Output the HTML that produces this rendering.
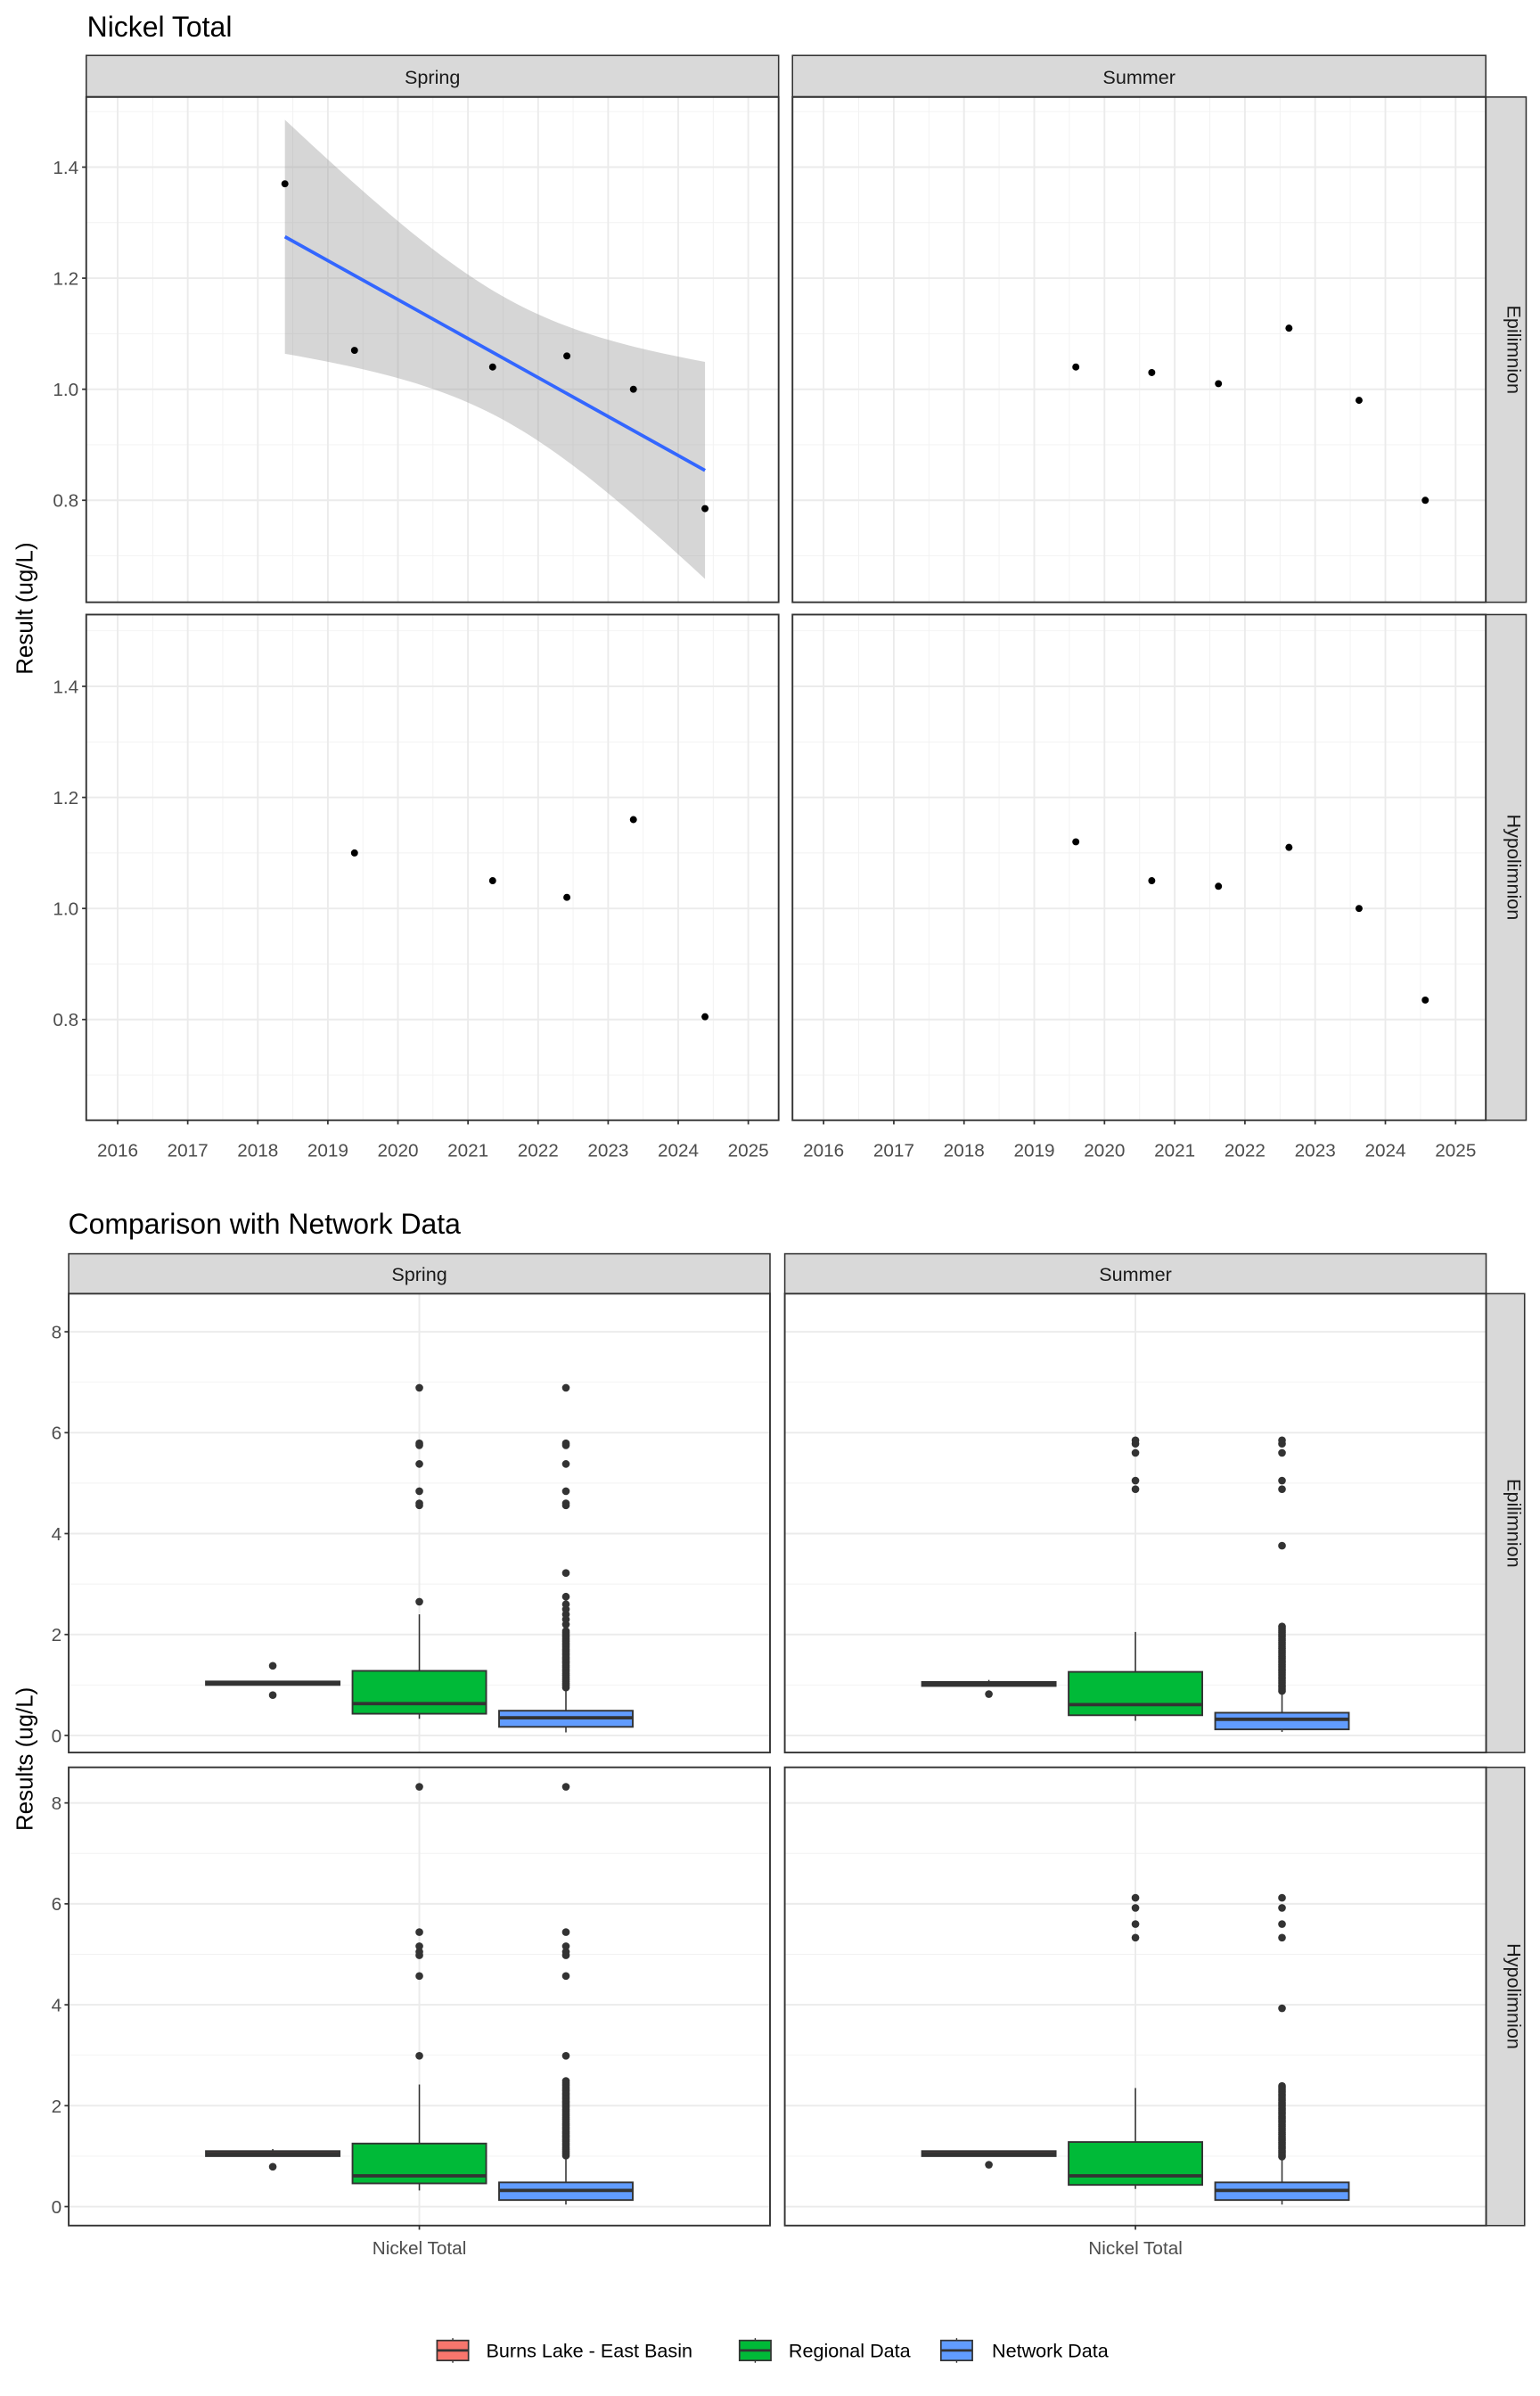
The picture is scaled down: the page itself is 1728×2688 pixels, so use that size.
<!DOCTYPE html>
<html><head><meta charset="utf-8"><style>
html,body{margin:0;padding:0;background:#fff;}
svg{display:block;}
text{font-family:"Liberation Sans",Arial,sans-serif;}
</style></head><body>
<svg id="s" xmlns="http://www.w3.org/2000/svg" width="1728" height="2688" viewBox="0 0 1000 1555.56">
<rect x="0" y="0" width="1000" height="1556" fill="#fff"/>
<g id="g"></g>
<g font-size="18.5" fill="#000">
<text x="56.5" y="23.8">Nickel Total</text>
<text x="44.3" y="801">Comparison with Network Data</text>
</g>
<g font-size="12.5" fill="#1a1a1a" text-anchor="middle">
<text x="280.8" y="54.5">Spring</text>
<text x="739.7" y="54.5">Summer</text>
<text x="272.3" y="831.5">Spring</text>
<text x="737.3" y="831.5">Summer</text>
<text transform="translate(979,227) rotate(90)">Epilimnion</text>
<text transform="translate(979,563) rotate(90)">Hypolimnion</text>
<text transform="translate(979,988.9) rotate(90)">Epilimnion</text>
<text transform="translate(979,1296) rotate(90)">Hypolimnion</text>
</g>
<g font-size="15" fill="#000" text-anchor="middle">
<text transform="translate(21,395) rotate(-90)">Result (ug/L)</text>
<text transform="translate(21,1142) rotate(-90)">Results (ug/L)</text>
</g>
<g font-size="12" fill="#4d4d4d" text-anchor="end">
<text x="51" y="112.8">1.4</text><text x="51" y="184.9">1.2</text><text x="51" y="257">1.0</text><text x="51" y="329.1">0.8</text>
<text x="51" y="449.9">1.4</text><text x="51" y="522">1.2</text><text x="51" y="594.1">1.0</text><text x="51" y="666.2">0.8</text>
<text x="40" y="868.8">8</text><text x="40" y="934.3">6</text><text x="40" y="999.9">4</text><text x="40" y="1065.4">2</text><text x="40" y="1131">0</text>
<text x="40" y="1174.8">8</text><text x="40" y="1240.3">6</text><text x="40" y="1305.9">4</text><text x="40" y="1371.4">2</text><text x="40" y="1437">0</text>
</g>
<g font-size="12" fill="#4d4d4d" text-anchor="middle">
<text x="76.4" y="751">2016</text><text x="121.9" y="751">2017</text><text x="167.4" y="751">2018</text><text x="212.9" y="751">2019</text><text x="258.4" y="751">2020</text><text x="303.9" y="751">2021</text><text x="349.4" y="751">2022</text><text x="394.9" y="751">2023</text><text x="440.4" y="751">2024</text><text x="485.9" y="751">2025</text>
<text x="534.8" y="751">2016</text><text x="580.4" y="751">2017</text><text x="626" y="751">2018</text><text x="671.6" y="751">2019</text><text x="717.2" y="751">2020</text><text x="762.8" y="751">2021</text><text x="808.4" y="751">2022</text><text x="854" y="751">2023</text><text x="899.6" y="751">2024</text><text x="945.2" y="751">2025</text>
<text x="272.3" y="1463.5">Nickel Total</text>
<text x="737.3" y="1463.5">Nickel Total</text>
</g>
<g font-size="12.5" fill="#000">
<text x="315.7" y="1530.5">Burns Lake - East Basin</text>
<text x="512.1" y="1530.5">Regional Data</text>
<text x="644.1" y="1530.5">Network Data</text>
</g>
</svg>
<script>
var g=document.getElementById('g');var NS='http://www.w3.org/2000/svg';
function el(t,a){var e=document.createElementNS(NS,t);for(var k in a)e.setAttribute(k,a[k]);g.appendChild(e);return e;}
function line(x1,y1,x2,y2,c,w){el('line',{x1:x1,y1:y1,x2:x2,y2:y2,stroke:c,'stroke-width':w});}
function rect(x,y,w,h,f,s,sw){el('rect',{x:x,y:y,width:w,height:h,fill:f,stroke:s||'none','stroke-width':sw||0});}
function dot(x,y,r,c){el('circle',{cx:x,cy:y,r:r,fill:c});}
rect(56,36,449.6,26.8,'#d9d9d9','#333',0.9);
rect(514.6,36,450.2,26.8,'#d9d9d9','#333',0.9);
rect(964.8,63,26.2,328,'#d9d9d9','#333',0.9);
rect(964.8,399,26.2,328.3,'#d9d9d9','#333',0.9);
function topPanel(x0,x1,y0,y1,x16,sp,yoff,leftAx,botAx){
 rect(x0,y0,x1-x0,y1-y0,'#fff');
 function Y(v){return 108.5+yoff+(1.4-v)*360.5;}
 [0.7,0.9,1.1,1.3,1.5].forEach(function(v){line(x0,Y(v),x1,Y(v),'#f2f2f2',0.55);});
 for(var i=-1;i<10;i++){var x=x16+(i+0.5)*sp;if(x>x0&&x<x1)line(x,y0,x,y1,'#f2f2f2',0.55);}
 [0.8,1.0,1.2,1.4].forEach(function(v){line(x0,Y(v),x1,Y(v),'#ebebeb',1.1);if(leftAx)line(x0-2.7,Y(v),x0,Y(v),'#333',1);});
 for(var i=0;i<10;i++){var x=x16+i*sp;line(x,y0,x,y1,'#ebebeb',1.1);if(botAx)line(x,y1,x,y1+2.7,'#333',1);}
 return Y;
}
var Y1=topPanel(56,505.6,63,391,76.4,45.5,0,1,0);
var Y2=topPanel(56,505.6,399,727.3,76.4,45.5,337.1,1,1);
var Y3=topPanel(514.6,964.8,63,391,534.8,45.6,0,0,0);
var Y4=topPanel(514.6,964.8,399,727.3,534.8,45.6,337.1,0,1);
// smooth confidence ribbon
(function(){
 var xa=185,xb=457.8,ya=153.7,yb=305.4,xm=328.7,A=1600,B=0.202;
 var up=[],lo=[];
 for(var i=0;i<=60;i++){var x=xa+(xb-xa)*i/60;var y=ya+(yb-ya)*(x-xa)/(xb-xa);var h=Math.sqrt(A+B*(x-xm)*(x-xm));up.push(x.toFixed(2)+','+(y-h).toFixed(2));lo.unshift(x.toFixed(2)+','+(y+h).toFixed(2));}
 el('path',{d:'M'+up.join(' L')+' L'+lo.join(' L')+' Z',fill:'#999','fill-opacity':0.4});
})();
line(185,153.7,457.8,305.4,'#3366FF',2.2);
var sx=[185,230.2,319.9,368.1,411.3,457.8],sv=[1.37,1.07,1.04,1.06,1.0,0.785];
for(var i=0;i<6;i++)dot(sx[i],Y1(sv[i]),2.3,'#000');
var hx=[230.2,319.9,368.1,411.3,457.8],hv=[1.10,1.05,1.02,1.16,0.805];
for(var i=0;i<5;i++)dot(hx[i],Y2(hv[i]),2.3,'#000');
var ux=[698.6,747.9,791.2,837,882.5,925.5],ue=[1.04,1.03,1.01,1.11,0.98,0.80],uh=[1.12,1.05,1.04,1.11,1.0,0.835];
for(var i=0;i<6;i++){dot(ux[i],Y3(ue[i]),2.3,'#000');dot(ux[i],Y4(uh[i]),2.3,'#000');}
[[56,63,449.6,328],[56,399,449.6,328.3],[514.6,63,450.2,328],[514.6,399,450.2,328.3]].forEach(function(r){rect(r[0],r[1],r[2],r[3],'none','#333',1.1);});
rect(44.6,814,455.4,25.9,'#d9d9d9','#333',0.9);
rect(509.6,814,455.4,25.9,'#d9d9d9','#333',0.9);
rect(965,839.9,25,297.9,'#d9d9d9','#333',0.9);
rect(965,1147.4,25,297.5,'#d9d9d9','#333',0.9);
function box(cx,Y,q1,med,q3,wl,wh,fill,outs){
 var hw=43.4;
 line(cx,Y(wh),cx,Y(q3),'#333',0.9);line(cx,Y(q1),cx,Y(wl),'#333',0.9);
 rect(cx-hw,Y(q3),2*hw,Y(q1)-Y(q3),fill,'#333',1.1);
 line(cx-hw,Y(med),cx+hw,Y(med),'#333',2.2);
 outs.forEach(function(v){dot(cx,Y(v),2.5,'#333');});
}
function dense(a,b,st){var r=[];for(var v=a;v<=b;v+=st)r.push(v);return r;}
function botPanel(x0,x1,y0,y1,z0,leftAx,botAx,data){
 rect(x0,y0,x1-x0,y1-y0,'#fff');
 function Y(v){return z0-v*32.76;}
 [1,3,5,7].forEach(function(v){line(x0,Y(v),x1,Y(v),'#f2f2f2',0.55);});
 [0,2,4,6,8].forEach(function(v){line(x0,Y(v),x1,Y(v),'#ebebeb',1.1);if(leftAx)line(x0-2.7,Y(v),x0,Y(v),'#333',1);});
 var cm=(x0+x1)/2;line(cm,y0,cm,y1,'#ebebeb',1.1);if(botAx)line(cm,y1,cm,y1+2.7,'#333',1);
 var c=[x0+0.291*(x1-x0),cm,x0+0.709*(x1-x0)];
 var f=['#F8766D','#00BA38','#619CFF'];
 for(var i=0;i<3;i++){var d=data[i];box(c[i],Y,d[0],d[1],d[2],d[3],d[4],f[i],d[5]);}
 rect(x0,y0,x1-x0,y1-y0,'none','#333',1.1);
}
botPanel(44.6,500,839.9,1137.8,1126.7,1,0,[
 [1.0,1.04,1.07,1.0,1.07,[1.38,0.80]],
 [0.43,0.63,1.28,0.33,2.4,[2.65,4.56,4.6,4.84,5.38,5.75,5.79,6.89]],
 [0.17,0.35,0.49,0.06,0.95,dense(0.95,2.1,0.04).concat([2.2,2.3,2.4,2.5,2.6,2.75,3.22,4.56,4.6,4.84,5.38,5.75,5.79,6.89])]
]);
botPanel(509.6,965,839.9,1137.8,1126.7,0,0,[
 [0.98,1.02,1.06,0.98,1.1,[0.82]],
 [0.4,0.61,1.26,0.29,2.05,[4.88,5.05,5.6,5.78,5.85]],
 [0.12,0.32,0.45,0.07,0.88,dense(0.88,2.2,0.04).concat([3.76,4.88,5.05,5.6,5.78,5.85])]
]);
botPanel(44.6,500,1147.4,1444.9,1432.6,1,1,[
 [1.0,1.05,1.1,1.0,1.14,[0.79]],
 [0.46,0.61,1.25,0.32,2.42,[2.99,4.57,4.98,5.05,5.16,5.44,8.32]],
 [0.13,0.32,0.48,0.04,1.01,dense(1.01,2.5,0.04).concat([2.99,4.57,4.98,5.05,5.16,5.44,8.32])]
]);
botPanel(509.6,965,1147.4,1444.9,1432.6,0,1,[
 [1.0,1.05,1.1,1.0,1.1,[0.83]],
 [0.43,0.61,1.28,0.35,2.35,[5.33,5.6,5.92,6.12]],
 [0.13,0.32,0.48,0.04,0.99,dense(0.99,2.4,0.04).concat([3.93,5.33,5.6,5.92,6.12])]
]);
[[283.8,'#F8766D'],[480.2,'#00BA38'],[611,'#619CFF']].forEach(function(k){
 var x=k[0],w=20.4,cx=x+w/2;
 line(cx,1518,cx,1534,'#333',0.8);
 rect(x,1519.5,w,13,k[1],'#333',1);
 line(x,1526,x+w,1526,'#333',1.6);
});
</script>
</body></html>
